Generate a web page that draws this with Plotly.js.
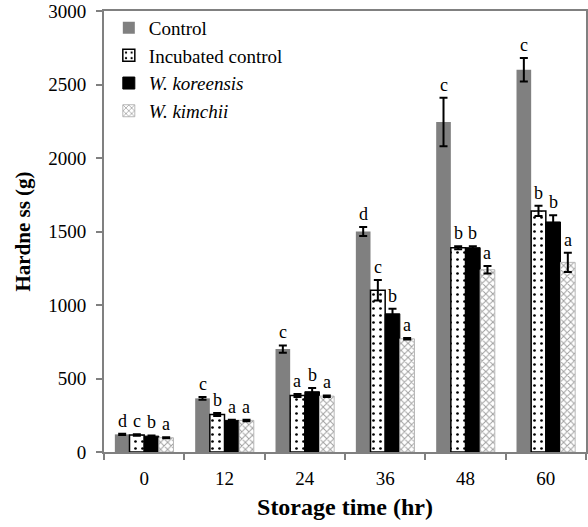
<!DOCTYPE html>
<html>
<head>
<meta charset="utf-8">
<script src="https://cdn.plot.ly/plotly-3.0.1.min.js"></script>
<style>html,body{margin:0;padding:0;background:#fff;}#chart{width:588px;height:527px;}</style>
</head>
<body>
<div id="chart"></div>
<script>
const times = ['0', '12', '24', '36', '48', '60'];
const seriesNames = ['Control', 'Incubated control', '<i>W. koreensis</i>', '<i>W. kimchii</i>'];

const control = [120, 365, 700, 1500, 2245, 2600];
const controlErr = [5, 10, 25, 30, 165, 80];
const incubated = [115, 255, 385, 1100, 1390, 1640];
const incubatedErr = [5, 10, 10, 70, 10, 35];
const koreensis = [108, 215, 410, 940, 1390, 1565];
const koreensisErr = [5, 5, 25, 35, 10, 45];
const kimchii = [97, 215, 380, 770, 1240, 1290];
const kimchiiErr = [3, 5, 5, 5, 25, 65];

const controlLetters = ['d', 'c', 'c', 'd', 'c', 'c'];
const incubatedLetters = ['c', 'b', 'a', 'c', 'b', 'b'];
const koreensisLetters = ['b', 'a', 'b', 'b', 'b', 'b'];
const kimchiiLetters = ['a', 'a', 'a', 'a', 'a', 'a'];

const values = [control, incubated, koreensis, kimchii];
const errs = [controlErr, incubatedErr, koreensisErr, kimchiiErr];
const letters = [controlLetters, incubatedLetters, koreensisLetters, kimchiiLetters];

const FONT = 'Liberation Serif, Times New Roman, serif';

const markers = [
  {color: '#808080', line: {color: '#808080', width: 0}},
  {color: '#ffffff', line: {color: '#000000', width: 1.5},
   pattern: {shape: '.', fgcolor: '#000000', bgcolor: '#ffffff', size: 7, solidity: 0.12}},
  {color: '#000000', line: {color: '#000000', width: 1}},
  {color: '#ffffff', line: {color: '#b8b8b8', width: 1},
   pattern: {shape: 'x', fgcolor: '#a0a0a0', bgcolor: '#ffffff', size: 5, solidity: 0.35}}
];

const traces = values.map((v, j) => ({
  type: 'bar',
  name: seriesNames[j],
  x: times,
  y: v,
  marker: markers[j],
  error_y: {type: 'data', array: errs[j], visible: true, color: '#000000', thickness: 2, width: 4}
}));

const bargap = 0.27;
const plotW = 588 - 104 - 2;
const catW = plotW / times.length;
const barW = catW * (1 - bargap) / 4;

const annotations = [];
values.forEach((v, j) => {
  v.forEach((val, i) => {
    annotations.push({
      xref: 'x', yref: 'y', x: i, y: val + errs[j][i],
      xshift: (j - 1.5) * barW, yshift: 1,
      yanchor: 'bottom', xanchor: 'center',
      text: letters[j][i], showarrow: false,
      font: {family: FONT, size: 18, color: '#000000'}
    });
  });
});

const layout = {
  width: 588, height: 527,
  margin: {l: 104, r: 2, t: 11, b: 75},
  paper_bgcolor: '#ffffff', plot_bgcolor: '#ffffff',
  barmode: 'group', bargap: bargap, bargroupgap: 0,
  showlegend: true,
  legend: {
    x: 0.01, y: 1.005, xanchor: 'left', yanchor: 'top',
    bgcolor: 'rgba(0,0,0,0)', font: {family: FONT, size: 19, color: '#000000'},
    itemwidth: 30, traceorder: 'normal'
  },
  font: {family: FONT, size: 19, color: '#000000'},
  xaxis: {
    type: 'category', range: [-0.5, 5.5], autorange: false,
    tickson: 'boundaries', ticks: 'outside', ticklen: 6, tickcolor: '#808080', tickwidth: 2,
    showline: true, linecolor: '#808080', linewidth: 2, mirror: true,
    showgrid: false, zeroline: false, ticklabelstandoff: 8, tickangle: 0,
    tickfont: {family: FONT, size: 19, color: '#000000'},
    title: {text: '<b>Storage time (hr)</b>', font: {family: FONT, size: 24, color: '#000000'}, standoff: 10}
  },
  yaxis: {
    range: [0, 3000], autorange: false, dtick: 500, ticks: 'outside', ticklen: 6, tickcolor: '#808080', tickwidth: 2,
    showline: true, linecolor: '#808080', linewidth: 2, mirror: true,
    showgrid: false, zeroline: false, ticklabelstandoff: 6,
    tickfont: {family: FONT, size: 19, color: '#000000'},
    title: {text: '<b>Hardne ss (g)</b>', font: {family: FONT, size: 21, color: '#000000'}, standoff: 12}
  },
  annotations: annotations
};

Plotly.newPlot('chart', traces, layout, {displayModeBar: false, staticPlot: true});
</script>
</body>
</html>
